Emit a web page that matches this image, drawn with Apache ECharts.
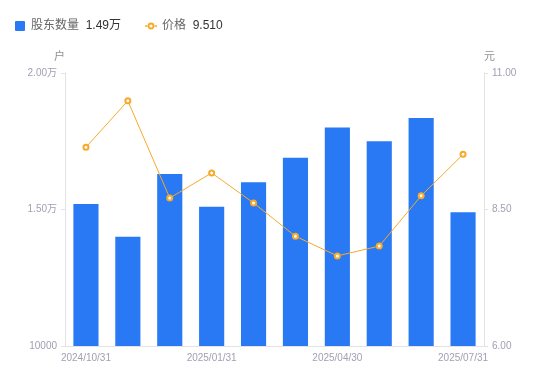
<!DOCTYPE html>
<html><head><meta charset="utf-8">
<script src="https://cdn.jsdelivr.net/npm/echarts@6/dist/echarts.min.js"></script>
<style>html,body{margin:0;padding:0;background:#fff}#c{width:550px;height:381px}</style>
</head><body><div id="c"></div>
<script>
var categories = ['2024/10/31','2024/11/29','2024/12/31','2025/01/31','2025/02/28','2025/03/31','2025/04/30','2025/05/30','2025/06/30','2025/07/31'];
var holders = [15200, 14000, 16300, 15100, 16000, 16900, 18000, 17500, 18350, 14900];
var prices = [9.64, 10.49, 8.71, 9.17, 8.62, 8.01, 7.65, 7.83, 8.75, 9.51];
var leftTicks = [10000, 15000, 20000];
var rightTicks = [6, 8.5, 11];
var seriesNames = ['股东数量', '价格'];
var legendValues = {'股东数量': '1.49万', '价格': '9.510'};

var FONT = '"Liberation Sans", Arial, "Noto Sans CJK SC", sans-serif';
var lineIcon = 'path://M0,4.3H3H3V5.7H0Z M9,4.3H12V5.7H9Z M2.6,5A3.4,3.4 0 1,0 9.4,5A3.4,3.4 0 1,0 2.6,5Z M4.4,5A1.6,1.6 0 1,1 7.6,5A1.6,1.6 0 1,1 4.4,5Z';
var chart = echarts.init(document.getElementById('c'));
chart.setOption({
  animation: false,
  textStyle: {fontFamily: FONT},
  legend: {
    left: 15, top: 20, padding: 0, itemWidth: 12, itemHeight: 10, itemGap: 24,
    data: [
      {name: seriesNames[0], icon: 'path://M1,0H9A1,1 0 0,1 10,1V9A1,1 0 0,1 9,10H1A1,1 0 0,1 0,9V1A1,1 0 0,1 1,0Z'},
      {name: seriesNames[1], icon: lineIcon}
    ],
    formatter: function (n) { return '{a|' + n + '}  {b|' + legendValues[n] + '}'; },
    textStyle: {
      rich: {
        a: {color: '#666', fontSize: 12, fontFamily: FONT},
        b: {color: '#333', fontSize: 12, fontFamily: FONT}
      }
    }
  },
  grid: {left: 65, right: 66, top: 73, bottom: 35},
  xAxis: {
    type: 'category', data: categories,
    axisLine: {lineStyle: {color: '#e3e3e3'}},
    axisTick: {show: false},
    axisLabel: {color: '#a0a0b4', fontSize: 10, interval: 2, margin: 7}
  },
  yAxis: [{
    type: 'value', min: 10000, max: 20000, interval: 5000,
    name: '户', nameGap: 11,
    nameTextStyle: {color: '#909090', fontSize: 11, align: 'right'},
    axisLine: {show: true, lineStyle: {color: '#e3e3e3'}},
    axisTick: {show: true, length: 4, lineStyle: {color: '#e3e3e3'}},
    splitLine: {show: false},
    axisLabel: {color: '#a0a0b4', fontSize: 10, margin: 8,
      formatter: function (v) { return v === leftTicks[0] ? String(v) : (v / 10000).toFixed(2) + '万'; }}
  }, {
    type: 'value', min: 6, max: 11, interval: 2.5,
    name: '元', nameGap: 11,
    nameTextStyle: {color: '#909090', fontSize: 11, align: 'left'},
    axisLine: {show: true, lineStyle: {color: '#e3e3e3'}},
    axisTick: {show: true, length: 4, lineStyle: {color: '#e3e3e3'}},
    splitLine: {show: false},
    axisLabel: {color: '#a0a0b4', fontSize: 10, margin: 8,
      formatter: function (v) { return v.toFixed(2); }}
  }],
  series: [{
    name: seriesNames[0], type: 'bar', data: holders, barWidth: '60%',
    itemStyle: {color: '#2979f5'}
  }, {
    name: seriesNames[1], type: 'line', yAxisIndex: 1, data: prices,
    symbol: 'emptyCircle', symbolSize: 5,
    lineStyle: {color: '#f7a928', width: 1},
    itemStyle: {color: '#f7a928', borderWidth: 1.5}
  }]
});
</script></body></html>
